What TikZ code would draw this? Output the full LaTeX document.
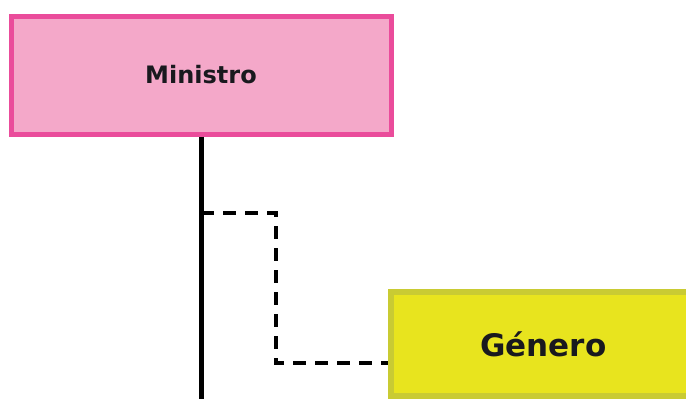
\documentclass[tikz,border=0pt]{standalone}
\usepackage{fontspec}
\newfontfamily\orgfont{DejaVu Sans}
\usetikzlibrary{calc,positioning}
\definecolor{ministropink}{RGB}{244,168,201}
\definecolor{ministroedge}{RGB}{234,76,155}
\definecolor{generoyellow}{RGB}{232,228,30}
\definecolor{generoedge}{RGB}{201,203,51}
\definecolor{orgtext}{RGB}{25,25,30}

\begin{document}
\begin{tikzpicture}[x=1pt,y=-1pt,line join=miter,
 orgbox/.style={draw,line width=5pt,inner sep=0pt,
   font=\orgfont\bfseries,text=orgtext},
 solidlink/.style={line width=5pt,black},
 dashlink/.style={line width=4pt,black,dash pattern=on 13pt off 9pt}]
 \useasboundingbox (0,0) rectangle (686,399);
 % Caja superior.
 \node[orgbox,fill=ministropink,draw=ministroedge,
       minimum width=380pt,minimum height=118pt,font=\orgfont\bfseries\fontsize{24}{28}\selectfont]
  (ministro) at (201,75) {Ministro};
 % Caja lateral, cortada por el borde derecho.
 \node[orgbox,fill=generoyellow,draw=generoedge,line width=6pt,
       minimum width=320pt,minimum height=104pt,font=\orgfont\bfseries\fontsize{31}{36}\selectfont]
  (genero) at (550.5,344) {\hspace*{-14pt}Género};
 \coordinate (cruce) at (ministro.south |- 0,213);
 \coordinate (abajo) at (ministro.south |- 0,410);
 \coordinate (entrada) at (genero.west |- 0,363);
 % Línea vertical y enlace punteado.
 \draw[solidlink] (ministro.south) -- (abajo);
 \draw[dashlink] (cruce) -- ($(cruce)+(75,0)$) |- (entrada);
\end{tikzpicture}
\end{document}
